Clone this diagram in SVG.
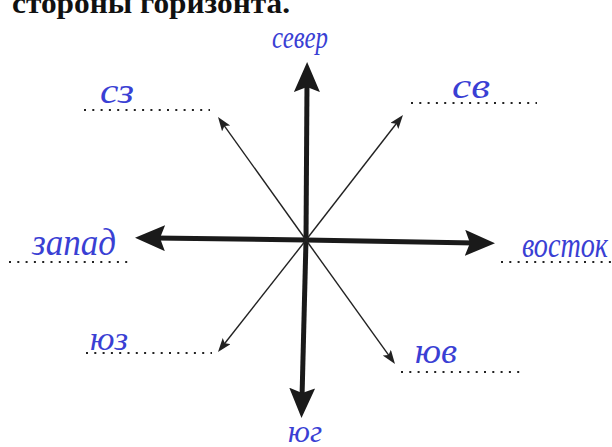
<svg xmlns="http://www.w3.org/2000/svg" width="612" height="447" viewBox="0 0 612 447">
<defs>
<style>
.hand{font-family:"Liberation Serif","Times New Roman",Tinos,serif;font-style:italic;fill:#3a3fd4;}
.dots{stroke:#222;stroke-width:2.2;stroke-dasharray:2 6.3;fill:none;}
.thick{stroke:#1a1a1a;stroke-width:5;fill:none;marker-end:url(#bigHead);}
.thin{stroke:#222;stroke-width:1.4;fill:none;marker-end:url(#smallHead);}
.title{font-family:"Liberation Serif","Times New Roman",Tinos,serif;font-weight:bold;fill:#111;}
</style>
<marker id="bigHead" markerUnits="userSpaceOnUse" markerWidth="32" markerHeight="28" refX="10" refY="13" orient="auto" viewBox="0 0 32 28">
<path d="M0,0 L30,13 L0,26 L5,13 z" fill="#1a1a1a"/>
</marker>
<marker id="smallHead" markerUnits="userSpaceOnUse" markerWidth="16" markerHeight="12" refX="8" refY="5" orient="auto" viewBox="0 0 16 12">
<path d="M0,0 L14,5 L0,10 L3,5 z" fill="#222"/>
</marker>
</defs>
<rect width="612" height="447" fill="#fff"/>
<text class="title" x="12" y="13" font-size="30" textLength="278" lengthAdjust="spacingAndGlyphs">стороны горизонта.</text>

<g id="connectors">
<line class="thick" x1="306" y1="240" x2="307" y2="82"/>
<line class="thick" x1="306" y1="240" x2="302" y2="398"/>
<line class="thick" x1="306" y1="240" x2="155" y2="238"/>
<line class="thick" x1="306" y1="240" x2="475" y2="243"/>
<line class="thin" x1="306" y1="240" x2="221.5" y2="121.9"/>
<line class="thin" x1="306" y1="240" x2="399.3" y2="119.7"/>
<line class="thin" x1="306" y1="240" x2="221.7" y2="347.3"/>
<line class="thin" x1="306" y1="240" x2="391.5" y2="359.1"/>
</g>

<g id="north">
<text class="hand" x="272" y="48" font-size="32" textLength="56" lengthAdjust="spacingAndGlyphs">север</text>
</g>
<g id="northwest">
<line class="dots" x1="84" y1="110" x2="210" y2="110"/>
<text class="hand" x="100" y="103" font-size="36" textLength="34" lengthAdjust="spacingAndGlyphs">сз</text>
</g>
<g id="northeast">
<line class="dots" x1="411" y1="103" x2="537" y2="103"/>
<text class="hand" x="452" y="98" font-size="36" textLength="38" lengthAdjust="spacingAndGlyphs">св</text>
</g>
<g id="west">
<line class="dots" x1="9" y1="262" x2="132" y2="262"/>
<text class="hand" x="32" y="255" font-size="38" textLength="84" lengthAdjust="spacingAndGlyphs">запад</text>
</g>
<g id="east">
<line class="dots" x1="501" y1="262" x2="612" y2="262"/>
<text class="hand" x="522" y="257" font-size="36" textLength="86" lengthAdjust="spacingAndGlyphs">восток</text>
</g>
<g id="southwest">
<line class="dots" x1="86" y1="353" x2="212" y2="353"/>
<text class="hand" x="90" y="350" font-size="34" textLength="38" lengthAdjust="spacingAndGlyphs">юз</text>
</g>
<g id="southeast">
<line class="dots" x1="401" y1="372" x2="525" y2="372"/>
<text class="hand" x="415" y="363" font-size="36" textLength="42" lengthAdjust="spacingAndGlyphs">юв</text>
</g>
<g id="south">
<text class="hand" x="288" y="442" font-size="32" textLength="34" lengthAdjust="spacingAndGlyphs">юг</text>
</g>
</svg>
